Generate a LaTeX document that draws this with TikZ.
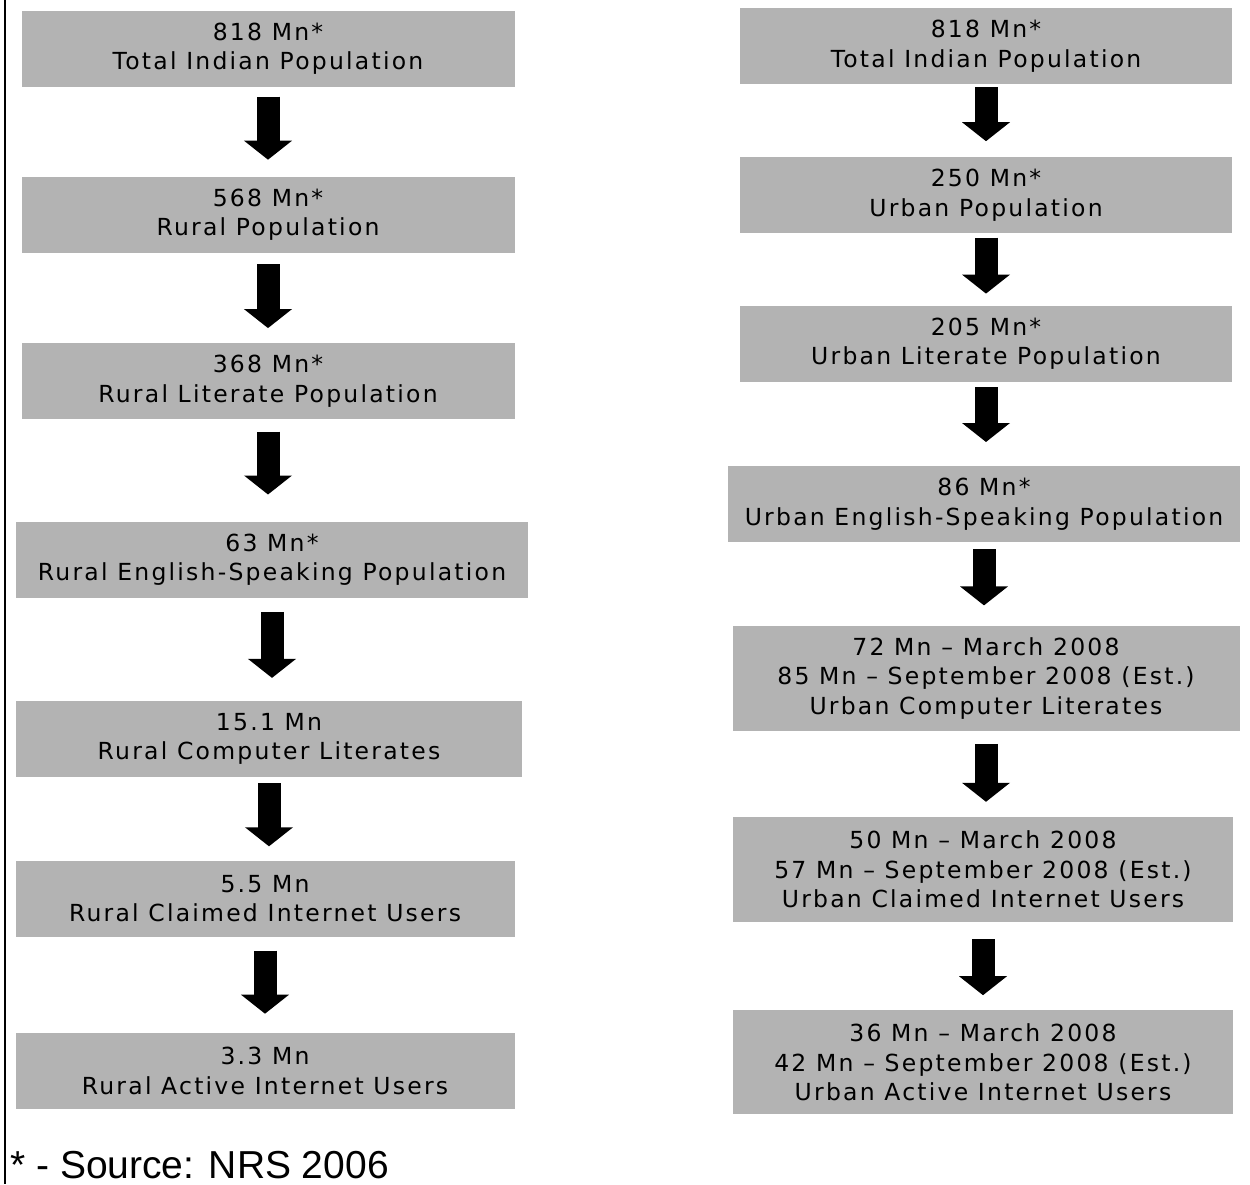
\documentclass[tikz,border=0pt]{standalone}
\usepackage{fontspec}
\setmainfont{DejaVu Sans}[LetterSpace=9.5]
\newfontfamily\notefont{Liberation Sans}
\usetikzlibrary{positioning,arrows.meta}
\definecolor{boxgray}{RGB}{179,179,179}
\tikzset{
  stage/.style={fill=boxgray, minimum width=493pt, minimum height=76pt,
    inner sep=0pt, align=center, font=\fontsize{23.5}{29.5}\selectfont},
  flow/.style={line width=23pt, -{Triangle[width=47pt,length=19pt]}}
}

\begin{document}
\begin{tikzpicture}[x=1pt,y=-1pt]
  \useasboundingbox (0,0) rectangle (1250,1184);
  % left margin line
  \draw[line width=2pt] (5,0) -- (5,1184);
  % Rural column
  \node[stage] (l1) at (268,48.5) {818 Mn*\\Total Indian Population};
  \node[stage] (l2) [below=90pt of l1] {568 Mn*\\Rural Population};
  \node[stage] (l3) [below=90pt of l2] {368 Mn*\\Rural Literate Population};
  \node[stage, minimum width=512pt] (l4) [below=102pt of l3, xshift=4pt] {63 Mn*\\Rural English-Speaking Population};
  \node[stage, minimum width=506pt] (l5) [below=103pt of l4, xshift=-3pt] {15.1 Mn\\Rural Computer Literates};
  \node[stage, minimum width=499pt] (l6) [below=83pt of l5, xshift=-4pt] {5.5 Mn\\Rural Claimed Internet Users};
  \node[stage, minimum width=499pt] (l7) [below=96pt of l6] {3.3 Mn\\Rural Active Internet Users};
  % Urban column
  \node[stage, minimum width=492pt] (r1) at (986,46) {818 Mn*\\Total Indian Population};
  \node[stage, minimum width=492pt] (r2) [below=73pt of r1] {250 Mn*\\Urban Population};
  \node[stage, minimum width=492pt] (r3) [below=72pt of r2] {205 Mn*\\Urban Literate Population};
  \node[stage, minimum width=512pt] (r4) [below=84pt of r3, xshift=-2pt] {86 Mn*\\Urban English-Speaking Population};
  \node[stage, minimum width=507pt, minimum height=105pt] (r5) [below=83pt of r4, xshift=2pt] {72 Mn -- March 2008\\85 Mn -- September 2008 (Est.)\\Urban Computer Literates};
  \node[stage, minimum width=500pt, minimum height=105pt] (r6) [below=86pt of r5, xshift=-3pt] {50 Mn -- March 2008\\57 Mn -- September 2008 (Est.)\\Urban Claimed Internet Users};
  \node[stage, minimum width=500pt, minimum height=104pt] (r7) [below=88pt of r6] {36 Mn -- March 2008\\42 Mn -- September 2008 (Est.)\\Urban Active Internet Users};
  % arrows
  \draw[flow, shorten <=10pt, shorten >=17pt] (l1.south) -- (l1.south |- l2.north);
  \draw[flow, shorten <=11pt, shorten >=15pt] (l2.south) -- (l2.south |- l3.north);
  \draw[flow, shorten <=12pt, shorten >=27pt] (l3.south) -- (l3.south |- l4.north);
  \draw[flow, shorten <=14pt, shorten >=23pt] (l4.south) -- (l4.south |- l5.north);
  \draw[flow, shorten <=6pt, shorten >=14pt] (l5.south) -- (l5.south |- l6.north);
  \draw[flow, shorten <=14pt, shorten >=19pt] (l6.south) -- (l6.south |- l7.north);
  \draw[flow, shorten <=3pt, shorten >=16pt] (r1.south) -- (r1.south |- r2.north);
  \draw[flow, shorten <=4pt, shorten >=12pt] (r2.south) -- (r2.south |- r3.north);
  \draw[flow, shorten <=5pt, shorten >=24pt] (r3.south) -- (r3.south |- r4.north);
  \draw[flow, shorten <=7pt, shorten >=20pt] (r4.south) -- (r4.south |- r5.north);
  \draw[flow, shorten <=13pt, shorten >=15pt] (r5.south) -- (r5.south |- r6.north);
  \draw[flow, shorten <=17pt, shorten >=15pt] (r6.south) -- (r6.south |- r7.north);
  % footnote
  \node[anchor=base west, inner sep=0pt, font=\notefont\fontsize{39}{40}\selectfont] (src) at (10,1178) {* - Source: NRS 2006};
\end{tikzpicture}
\end{document}
